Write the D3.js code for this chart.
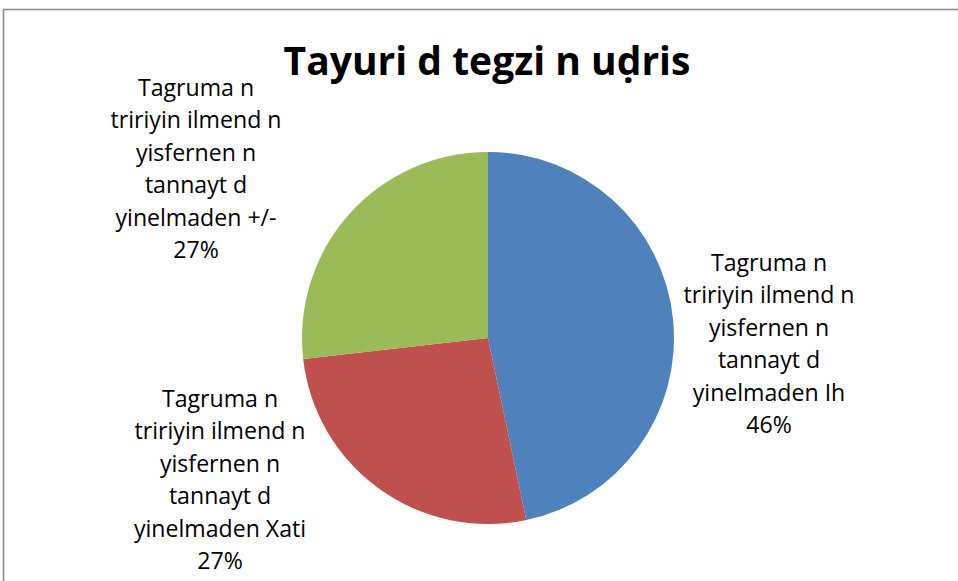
<!DOCTYPE html>
<html><head><meta charset="utf-8">
<script src="https://cdn.jsdelivr.net/npm/d3@7"></script>
<style>html,body{margin:0;padding:0;background:#fff;overflow:hidden}</style>
</head><body>
<script>
const title = "Tayuri d tegzi n uḍris";
const categories = [
  "Tagruma n tririyin ilmend n yisfernen n tannayt d yinelmaden Ih",
  "Tagruma n tririyin ilmend n yisfernen n tannayt d yinelmaden Xati",
  "Tagruma n tririyin ilmend n yisfernen n tannayt d yinelmaden +/-"
];
const labelLines = [
  ["Tagruma n", "tririyin ilmend n", "yisfernen n", "tannayt d", "yinelmaden Ih"],
  ["Tagruma n", "tririyin ilmend n", "yisfernen n", "tannayt d", "yinelmaden Xati"],
  ["Tagruma n", "tririyin ilmend n", "yisfernen n", "tannayt d", "yinelmaden +/-"]
];
const values = [46.7, 26.5, 26.8];
const pctLabels = ["46%", "27%", "27%"];
const colors = ["#4F81BD", "#C0504D", "#9BBB59"];

const W = 958, H = 581;
const svg = d3.select("body").append("svg").attr("width", W).attr("height", H);
svg.append("rect").attr("x", 3.5).attr("y", 9.5).attr("width", 1200).attr("height", 1200)
  .attr("fill", "#fff").attr("stroke", "#8c8c8c").attr("stroke-width", 1.6);

const font = "'Open Sans', 'Liberation Sans', sans-serif";
const t = svg.append("text").attr("x", 487).attr("y", 75).attr("text-anchor", "middle")
  .attr("font-family", font).attr("font-weight", "bold").attr("font-size", 40)
  .attr("fill", "#000").text(title);
const tw = t.node().getComputedTextLength();
t.attr("font-size", 40 * 407 / tw);

const cx = 488, cy = 338, r = 186;
const pie = d3.pie().sort(null).value(d => d)(values);
const arc = d3.arc().innerRadius(0).outerRadius(r);
const g = svg.append("g").attr("transform", `translate(${cx},${cy})`);
g.selectAll("path").data(pie).join("path").attr("d", arc).attr("fill", (d, i) => colors[i]);

// label anchor centers (text block centre x, first line baseline y)
const labelPos = [[769, 271], [220, 407], [196, 96]];
const lh = 32.4;
labelLines.forEach((lines, i) => {
  const all = lines.concat([pctLabels[i]]);
  const tx = svg.append("text").attr("text-anchor", "middle")
    .attr("font-family", font).attr("font-size", 19).attr("fill", "#000");
  all.forEach((s, j) => {
    tx.append("tspan").attr("x", labelPos[i][0]).attr("y", labelPos[i][1] + j * lh).text(s);
  });
});
// fit label size to reference width of "tririyin ilmend n" (~171px)
const probe = svg.append("text").attr("font-family", font).attr("font-size", 19).text("tririyin ilmend n");
const pw = probe.node().getComputedTextLength();
probe.remove();
svg.selectAll("text").filter(function(){ return this !== t.node(); }).attr("font-size", 19 * 171 / pw);
</script>
</body></html>
